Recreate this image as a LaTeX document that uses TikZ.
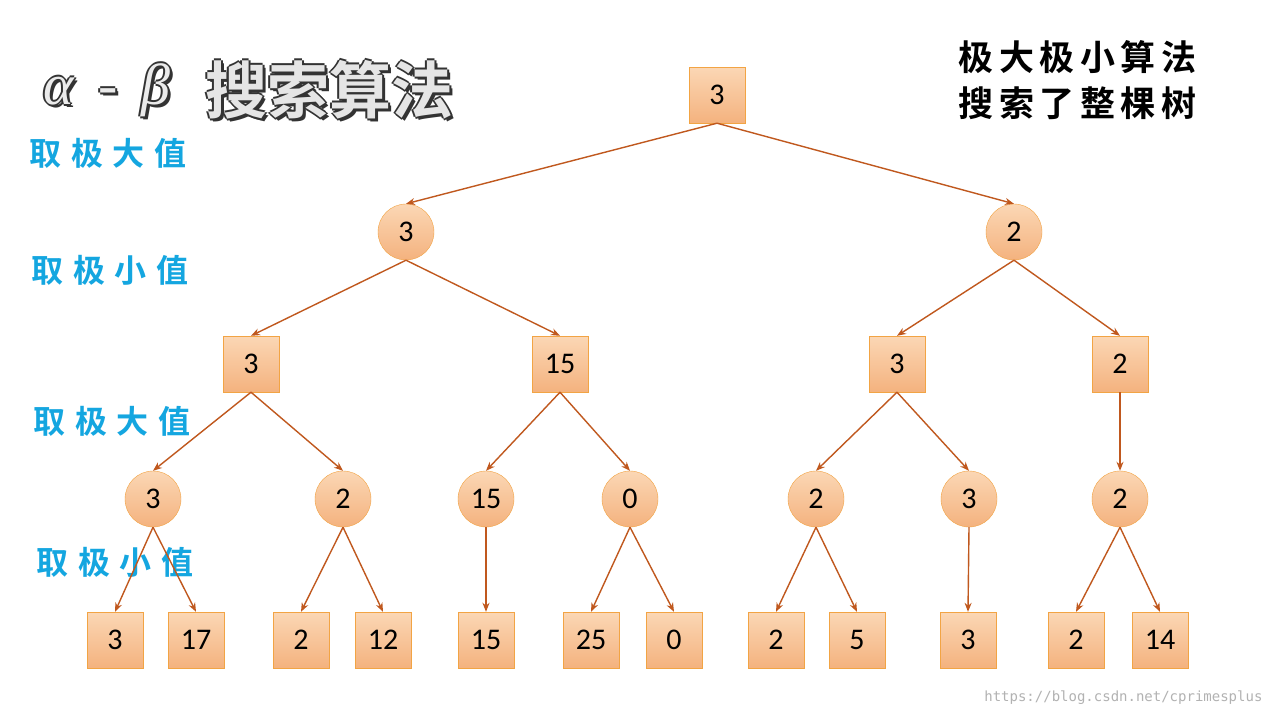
\documentclass[tikz,border=0pt]{standalone}
\usepackage{fontspec}
\newfontfamily\cjk{Noto Sans CJK SC Bold}
\newfontfamily\cjklab[LetterSpace=30]{Noto Sans CJK SC Bold}
\newfontfamily\cjknote[LetterSpace=16]{Noto Sans CJK SC Bold}
\newfontfamily\grk{Liberation Serif Italic}
\setmainfont{Carlito}
\newfontfamily\mono{DejaVu Sans Mono}
\definecolor{edgec}{HTML}{C0581E}
\definecolor{bordc}{HTML}{F2A444}
\definecolor{topc}{HTML}{FBD7B5}
\definecolor{botc}{HTML}{F4B27E}
\definecolor{bluec}{HTML}{14A6E0}
\usetikzlibrary{arrows.meta}
\tikzset{
 sq/.style={draw=bordc,top color=topc,bottom color=botc,minimum size=56pt,inner sep=0pt,font=\fontsize{30}{30}\selectfont},
 ci/.style={circle,draw=bordc,top color=topc,bottom color=botc,minimum size=56pt,inner sep=0pt,font=\fontsize{30}{30}\selectfont},
 ed/.style={draw=edgec,line width=1.4pt,-{Stealth[length=9pt,width=7pt]}},
 lab/.style={text=bluec,font=\cjklab\fontsize{32}{32}\selectfont,anchor=west},
 ttl/.style={anchor=west,font=\cjk\fontsize{62}{62}\selectfont},
 ttg/.style={anchor=west,font=\grk\fontsize{58}{58}\selectfont},
}
\begin{document}
\begin{tikzpicture}[x=1pt,y=-1pt]
\useasboundingbox (0,0) rectangle (1274,718);
\fill[white] (0,0) rectangle (1274,718);
% title
\foreach \dx/\dy in {-2/0,2/0,0/-2,0/2,3/3}{
 \node[ttg,text=black!80] at (40+\dx,90+\dy) {α\ \,-\ \,β};
 \node[ttl,text=black!80] at (202+\dx,90+\dy) {搜索算法};
}
\node[ttg,text=black!8] (tg) at (40,90) {α\ \,-\ \,β};
\node[ttl,text=black!10] (title) at (202,90) {搜索算法};
\node[anchor=east,font=\cjknote\fontsize{35}{46}\selectfont,align=left] (note) at (1200,80) {极大极小算法\\搜索了整棵树};
\node[lab] (l1) at (26,153) {取极大值};
\node[lab] (l2) at (28,270) {取极小值};
\node[lab] (l3) at (30,421) {取极大值};
\node[lab] (l4) at (33,562) {取极小值};
\node[anchor=east,text=black!30,font=\mono\fontsize{14}{14}\selectfont] (wm) at (1266,698) {https://blog.csdn.net/cprimesplus};
% nodes
\node[sq] (r) at (717,95) {3};
\node[ci] (a) at (406,232) {3};
\node[ci] (b) at (1014,232) {2};
\node[sq] (a1) at (251,364) {3};
\node[sq] (a2) at (560,364) {15};
\node[sq] (b1) at (897,364) {3};
\node[sq] (b2) at (1120,364) {2};
\node[ci] (c1) at (153,499) {3};
\node[ci] (c2) at (343,499) {2};
\node[ci] (c3) at (486,499) {15};
\node[ci] (c4) at (630,499) {0};
\node[ci] (c5) at (816,499) {2};
\node[ci] (c6) at (969,499) {3};
\node[ci] (c7) at (1120,499) {2};
\foreach \n/\x/\v in {d1/115/3,d2/196/17,d3/301/2,d4/383/12,d5/486/15,d6/591/25,d7/674/0,d8/776/2,d9/857/5,d10/968/3,d11/1076/2,d12/1160/14}
 \node[sq] (\n) at (\x,640) {\v};
% edges
\foreach \s/\t in {r/a,r/b,a/a1,a/a2,b/b1,b/b2,a1/c1,a1/c2,a2/c3,a2/c4,b1/c5,b1/c6,b2/c7,
 c1/d1,c1/d2,c2/d3,c2/d4,c3/d5,c4/d6,c4/d7,c5/d8,c5/d9,c6/d10,c7/d11,c7/d12}
 \draw[ed] (\s.south) -- (\t.north);
\end{tikzpicture}
\end{document}
